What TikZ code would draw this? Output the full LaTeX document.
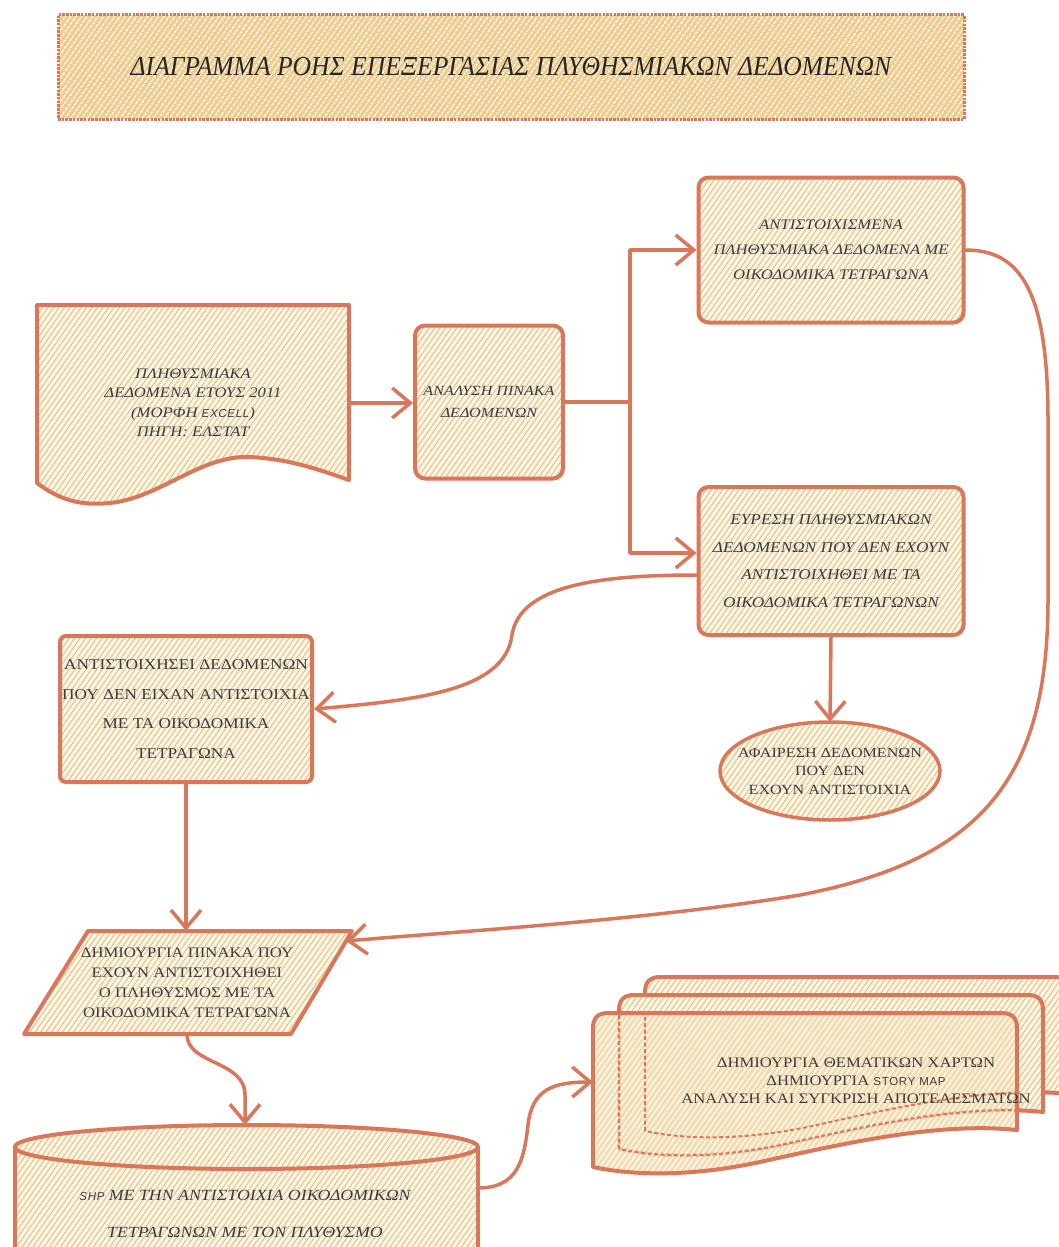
\documentclass[tikz,border=0pt]{standalone}
\usepackage{fontspec}
\setmainfont{Liberation Serif}
\newfontfamily\gi[FakeStretch=1.15]{Liberation Serif}
\newfontfamily\gu[FakeStretch=1.15]{Liberation Serif}
\newfontfamily\gt[FakeStretch=0.93]{Liberation Serif}
\newfontfamily\sansf[LetterSpace=6]{Liberation Sans}
\usetikzlibrary{arrows.meta,patterns.meta,shapes.geometric}
\definecolor{ln}{HTML}{D9775A}
\definecolor{cr}{HTML}{FCF5E4}
\definecolor{hl}{HTML}{DFC28A}
\definecolor{org}{HTML}{F1CB8B}
\definecolor{orgl}{HTML}{F5D6A0}
\definecolor{tx}{HTML}{3C3C3C}
\newcommand\smsans[1]{{\sansf\fontsize{11.5}{11.5}\selectfont #1}}
\newcommand\mdocpath[1]{\path[#1] (593,1167) -- (593,1028) .. controls (593,1018) and (598,1013) .. (608,1013) -- (1002,1013) .. controls (1012,1013) and (1017,1018) .. (1017,1028) -- (1017,1130) .. controls (940,1122) and (850,1142) .. (760,1162) .. controls (700,1175) and (640,1177) .. (593,1167) -- cycle;}
\begin{document}
\begin{tikzpicture}[x=1pt,y=-1pt,line join=round,
 hatch/.style={preaction={fill=cr},preaction={pattern={Lines[angle=55,distance=4.5pt,line width=1pt]},pattern color=hl}},
 hatcho/.style={preaction={fill=#1},preaction={pattern={Lines[angle=55,distance=4.5pt,line width=1.3pt]},pattern color=white}},
 rbox/.style={draw=ln,line width=4pt,hatch,rounded corners=10pt,text=tx,align=center,inner sep=0pt},
 itf/.style 2 args={font=\gi\itshape\fontsize{#1}{#2}\selectfont},
 upf/.style 2 args={font=\gu\fontsize{#1}{#2}\selectfont},
 shp/.style={draw=ln,line width=4pt,hatch},
 lbl/.style={text=tx,align=center,inner sep=0pt},
 conn/.style={draw=ln,line width=3.5pt,line cap=round,-{Straight Barb[length=18pt,width=30pt]}},
 link/.style={draw=ln,line width=3.5pt,line cap=round}]
\useasboundingbox (0,0) rectangle (1058,1247);
\fill[white] (0,0) rectangle (1058,1247);

% title
\node[draw=ln,line width=3pt,dash pattern=on 2.5pt off 1.2pt,hatcho=org,minimum width=906pt,minimum height=104pt,inner sep=0pt,text=black!85,font=\gt\itshape\fontsize{27.5}{27.5}\selectfont] (title) at (511,67) {ΔΙΑΓΡΑΜΜΑ ΡΟΗΣ ΕΠΕΞΕΡΓΑΣΙΑΣ ΠΛΥΘΗΣΜΙΑΚΩΝ ΔΕΔΟΜΕΝΩΝ};

% document
\path[shp] (37,305) -- (349,305) -- (349,480) .. controls (320,470) and (290,459) .. (250,457) .. controls (200,455) and (160,498) .. (110,503) .. controls (80,506) and (60,500) .. (37,483) -- cycle;
\node[lbl,itf={14.5}{19.5},minimum width=312pt,minimum height=196pt] (docN) at (193,403) {ΠΛΗΘΥΣΜΙΑΚΑ\\ΔΕΔΟΜΕΝΑ ΕΤΟΥΣ 2011\\(ΜΟΡΦΗ \smsans{EXCELL})\\ΠΗΓΗ: ΕΛΣΤΑΤ};

\node[rbox,itf={14}{22},minimum width=148pt,minimum height=153pt] (ana) at (489,402) {ΑΝΑΛΥΣΗ ΠΙΝΑΚΑ\\ΔΕΔΟΜΕΝΩΝ};
\node[rbox,itf={14.5}{25},minimum width=265pt,minimum height=145pt] (match) at (831,250) {ΑΝΤΙΣΤΟΙΧΙΣΜΕΝΑ\\ΠΛΗΘΥΣΜΙΑΚΑ ΔΕΔΟΜΕΝΑ ΜΕ\\ΟΙΚΟΔΟΜΙΚΑ ΤΕΤΡΑΓΩΝΑ};
\node[rbox,itf={15}{27.5},minimum width=265pt,minimum height=148pt] (find) at (831,561) {ΕΥΡΕΣΗ ΠΛΗΘΥΣΜΙΑΚΩΝ\\ΔΕΔΟΜΕΝΩΝ ΠΟΥ ΔΕΝ ΕΧΟΥΝ\\ΑΝΤΙΣΤΟΙΧΗΘΕΙ ΜΕ ΤΑ\\ΟΙΚΟΔΟΜΙΚΑ ΤΕΤΡΑΓΩΝΩΝ};

% ellipse
\path[draw=ln,line width=3.5pt,hatch] (830,771) ellipse [x radius=110,y radius=49];
\node[lbl,upf={14}{18.5},minimum height=98pt] (ell) at (830,771) {ΑΦΑΙΡΕΣΗ ΔΕΔΟΜΕΝΩΝ\\ΠΟΥ ΔΕΝ\\ΕΧΟΥΝ ΑΝΤΙΣΤΟΙΧΙΑ};

\node[rbox,rounded corners=6pt,upf={15}{29.5},minimum width=252pt,minimum height=146pt] (rel) at (186,709) {ΑΝΤΙΣΤΟΙΧΗΣΕΙ ΔΕΔΟΜΕΝΩΝ\\ΠΟΥ ΔΕΝ ΕΙΧΑΝ ΑΝΤΙΣΤΟΙΧΙΑ\\ΜΕ ΤΑ ΟΙΚΟΔΟΜΙΚΑ\\ΤΕΤΡΑΓΩΝΑ};

% parallelogram
\path[shp] (88,931) -- (352,931) -- (291,1034) -- (24,1034) -- cycle;
\node[lbl,upf={14.5}{20},minimum height=103pt] (para) at (187,982.5) {ΔΗΜΙΟΥΡΓΙΑ ΠΙΝΑΚΑ ΠΟΥ\\ΕΧΟΥΝ ΑΝΤΙΣΤΟΙΧΗΘΕΙ\\Ο ΠΛΗΘΥΣΜΟΣ ΜΕ ΤΑ\\ΟΙΚΟΔΟΜΙΚΑ ΤΕΤΡΑΓΩΝΑ};
\coordinate (paraR) at (346,941);

% cylinder
\path[shp] (15,1147) rectangle (478,1285);
\path[shp] (246.5,1147) ellipse [x radius=231.5,y radius=22];
\node[lbl,itf={15.5}{37}] (cyl) at (245,1214) {\smsans{SHP} ΜΕ ΤΗΝ ΑΝΤΙΣΤΟΙΧΙΑ ΟΙΚΟΔΟΜΙΚΩΝ\\ΤΕΤΡΑΓΩΝΩΝ ΜΕ ΤΟΝ ΠΛΥΘΥΣΜΟ};
\coordinate (cyltop) at (245,1125);
\coordinate (cylR) at (478,1188);

% multi document
\begin{scope}[shift={(52,-36)}]\mdocpath{shp}\end{scope}
\begin{scope}[shift={(26,-18)}]\mdocpath{shp}\end{scope}
\mdocpath{preaction={fill=orgl,fill opacity=0.82},preaction={pattern={Lines[angle=55,distance=4.5pt,line width=1.3pt]},pattern color=white}}
\begin{scope}
 \mdocpath{clip}
 \begin{scope}[shift={(52,-36)}]\mdocpath{draw=ln,line width=2pt,dash pattern=on 4pt off 2.5pt}\end{scope}
 \begin{scope}[shift={(26,-18)}]\mdocpath{draw=ln,line width=2pt,dash pattern=on 4pt off 2.5pt}\end{scope}
\end{scope}
\mdocpath{draw=ln,line width=4pt}
\node[lbl,upf={14.5}{18}] (multi) at (856,1081) {ΔΗΜΙΟΥΡΓΙΑ ΘΕΜΑΤΙΚΩΝ ΧΑΡΤΩΝ\\ΔΗΜΙΟΥΡΓΙΑ \smsans{STORY MAP}\\ΑΝΑΛΥΣΗ ΚΑΙ ΣΥΓΚΡΙΣΗ ΑΠΟΤΕΛΕΣΜΑΤΩΝ};
\coordinate (multiL) at (593,1082);

% connectors
\draw[conn] (docN.east) -- (docN.east -| ana.west);
\draw[link] (ana.east) -- ++(65,0) coordinate (br);
\draw[conn] (br) |- (match.west);
\draw[conn] (br) |- ([yshift=8pt]find.west);
\draw[conn] (find.south) -- (ell.north);
\draw[conn] ([yshift=-14pt]find.west) .. controls (600,575) and (520,585) .. (512,635) .. controls (505,690) and (420,700) .. (rel.east);
\draw[conn] (match.east) .. controls (1020,250) and (1048,290) .. (1048,420) -- (1048,600) .. controls (1048,780) and (980,860) .. (800,895) .. controls (650,920) and (450,932) .. (paraR);
\draw[conn] (rel.south) -- (rel.south |- para.north);
\draw[conn] (para.south) .. controls (187,1065) and (245,1060) .. (245,1095) -- (cyltop);
\draw[conn] (cylR) .. controls (518,1188) and (524,1160) .. (528,1125) .. controls (532,1090) and (552,1082) .. (multiL);
\end{tikzpicture}
\end{document}
